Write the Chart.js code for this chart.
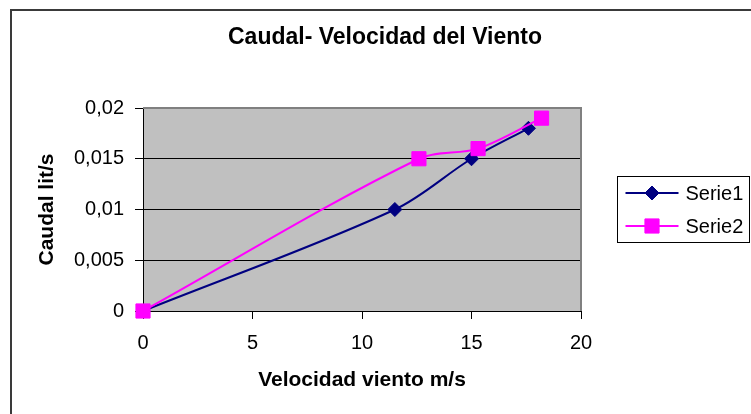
<!DOCTYPE html>
<html>
<head>
<meta charset="utf-8">
<script src="https://cdn.jsdelivr.net/npm/chart.js@4.4.1/dist/chart.umd.min.js"></script>
<style>
  html, body { margin: 0; padding: 0; background: #fff; }
  #wrap { width: 751px; height: 414px; position: relative; }
</style>
</head>
<body>
<div id="wrap"><canvas id="c" width="751" height="414"></canvas></div>
<script>
// ---- data ----
const seriesNames = ['Serie1', 'Serie2'];
const velocidad1 = [0, 11.5, 15.0, 17.6];
const caudal1    = [0, 0.010, 0.015, 0.018];
const velocidad2 = [0, 12.6, 15.3, 18.2];
const caudal2    = [0, 0.015, 0.016, 0.019];
const yTickLabels = ['0', '0,005', '0,01', '0,015', '0,02'];
const xTickLabels = ['0', '5', '10', '15', '20'];
const chartTitle = 'Caudal- Velocidad del Viento';
const xTitle = 'Velocidad viento m/s';
const yTitle = 'Caudal lit/s';

const FONT = "'Liberation Sans', Arial, sans-serif";

function toPoints(xs, ys) { return xs.map((x, i) => ({ x: x, y: ys[i] })); }

const plotBg = {
  id: 'plotBg',
  beforeDraw(chart) {
    const { ctx, chartArea: a } = chart;
    ctx.save();
    ctx.fillStyle = '#ffffff';
    ctx.fillRect(0, 0, chart.width, chart.height);
    ctx.fillStyle = '#C0C0C0';
    ctx.fillRect(a.left, a.top, a.right - a.left, a.bottom - a.top);
    // outer frame (top and left edges visible)
    ctx.strokeStyle = '#3a3a3a';
    ctx.lineWidth = 2;
    ctx.beginPath();
    ctx.moveTo(chart.width, 10);
    ctx.lineTo(11, 10);
    ctx.lineTo(11, chart.height);
    ctx.stroke();
    // chart title
    ctx.fillStyle = '#000';
    ctx.font = 'bold 23px ' + FONT;
    ctx.textAlign = 'center';
    ctx.textBaseline = 'middle';
    ctx.fillText(chartTitle, chart.width / 2 + 9.5, 38);
    ctx.restore();
  },
  beforeDatasetsDraw(chart) {
    const { ctx, chartArea: a } = chart;
    ctx.save();
    ctx.strokeStyle = '#808080';
    ctx.lineWidth = 2;
    ctx.beginPath();
    ctx.moveTo(a.left, a.top);
    ctx.lineTo(a.right, a.top);
    ctx.lineTo(a.right, a.bottom);
    ctx.stroke();
    ctx.restore();
  }
};

const customLegend = {
  id: 'customLegend',
  afterDraw(chart) {
    const { ctx, chartArea: a } = chart;
    const left = a.right + 36.5, top = 176.5, w = 132, h = 66;
    ctx.save();
    ctx.strokeStyle = '#000';
    ctx.lineWidth = 1;
    ctx.strokeRect(left, top, w, h);
    const dsets = chart.data.datasets.slice().sort((p, q) => seriesNames.indexOf(p.label) - seriesNames.indexOf(q.label));
    dsets.forEach((ds, i) => {
      const y = top + 16.5 + i * 33;
      const x0 = left + 8, x1 = left + 61, xm = (x0 + x1) / 2;
      ctx.strokeStyle = ds.borderColor;
      ctx.lineWidth = 2;
      ctx.beginPath();
      ctx.moveTo(x0, y); ctx.lineTo(x1, y);
      ctx.stroke();
      ctx.fillStyle = ds.pointBackgroundColor;
      ctx.strokeStyle = ds.pointBorderColor;
      ctx.lineWidth = 1;
      ctx.beginPath();
      if (ds.pointStyle === 'rect') {
        const s = ds.pointRadius * Math.SQRT1_2;
        ctx.rect(xm - s, y - s, 2 * s, 2 * s);
      } else {
        const r = ds.pointRadius;
        ctx.moveTo(xm, y - r); ctx.lineTo(xm + r, y); ctx.lineTo(xm, y + r); ctx.lineTo(xm - r, y); ctx.closePath();
      }
      ctx.fill(); ctx.stroke();
      ctx.fillStyle = '#000';
      ctx.font = '20px ' + FONT;
      ctx.textAlign = 'left';
      ctx.textBaseline = 'middle';
      ctx.fillText(ds.label, left + 68, y + 1);
    });
    ctx.restore();
  }
};

new Chart(document.getElementById('c'), {
  type: 'scatter',
  data: {
    datasets: [
      {
        label: seriesNames[0],
        data: toPoints(velocidad1, caudal1),
        showLine: true,
        borderColor: '#000080',
        backgroundColor: '#000080',
        pointBackgroundColor: '#000080',
        pointBorderColor: '#000080',
        borderWidth: 2,
        pointStyle: 'rectRot',
        pointRadius: 7,
        pointHoverRadius: 7,
        pointBorderWidth: 1,
        tension: 0.33,
        clip: false,
        order: 2
      },
      {
        label: seriesNames[1],
        data: toPoints(velocidad2, caudal2),
        showLine: true,
        borderColor: '#FF00FF',
        backgroundColor: '#FF00FF',
        pointBackgroundColor: '#FF00FF',
        pointBorderColor: '#FF00FF',
        borderWidth: 2,
        pointStyle: 'rect',
        pointRadius: 10,
        pointHoverRadius: 10,
        pointBorderWidth: 1,
        tension: 0.33,
        clip: false,
        order: 1
      }
    ]
  },
  options: {
    responsive: false,
    animation: false,
    devicePixelRatio: 1,
    layout: { padding: { left: 0, right: 170, top: 108, bottom: 0 } },
    plugins: {
      legend: { display: false },
      tooltip: { enabled: false },
      title: { display: false }
    },
    scales: {
      x: {
        type: 'linear',
        min: 0, max: 20,
        afterFit(scale) { scale.height = 103; },
        ticks: {
          stepSize: 5,
          color: '#000',
          font: { family: FONT, size: 20 },
          padding: 12,
          maxRotation: 0,
          callback: (v, i) => xTickLabels[i]
        },
        grid: { display: true, drawOnChartArea: false, drawTicks: true, tickLength: 8, color: '#000', lineWidth: 1 },
        border: { display: true, color: '#000', width: 1 },
        title: {
          display: true, text: xTitle, color: '#000',
          font: { family: FONT, size: 21, weight: 'bold' },
          padding: { top: 0, bottom: 21 }
        }
      },
      y: {
        type: 'linear',
        min: 0, max: 0.02,
        afterFit(scale) { scale.width = 143; },
        ticks: {
          stepSize: 0.005,
          color: '#000',
          font: { family: FONT, size: 20 },
          padding: 11,
          callback: (v, i) => yTickLabels[i]
        },
        grid: { display: true, drawOnChartArea: true, drawTicks: true, tickLength: 8, color: '#000', lineWidth: 1 },
        border: { display: true, color: '#000', width: 1 },
        title: {
          display: true, text: yTitle, color: '#000',
          font: { family: FONT, size: 21, weight: 'bold' },
          padding: { top: 35, bottom: 0 }
        }
      }
    }
  },
  plugins: [plotBg, customLegend]
});
</script>
</body>
</html>
